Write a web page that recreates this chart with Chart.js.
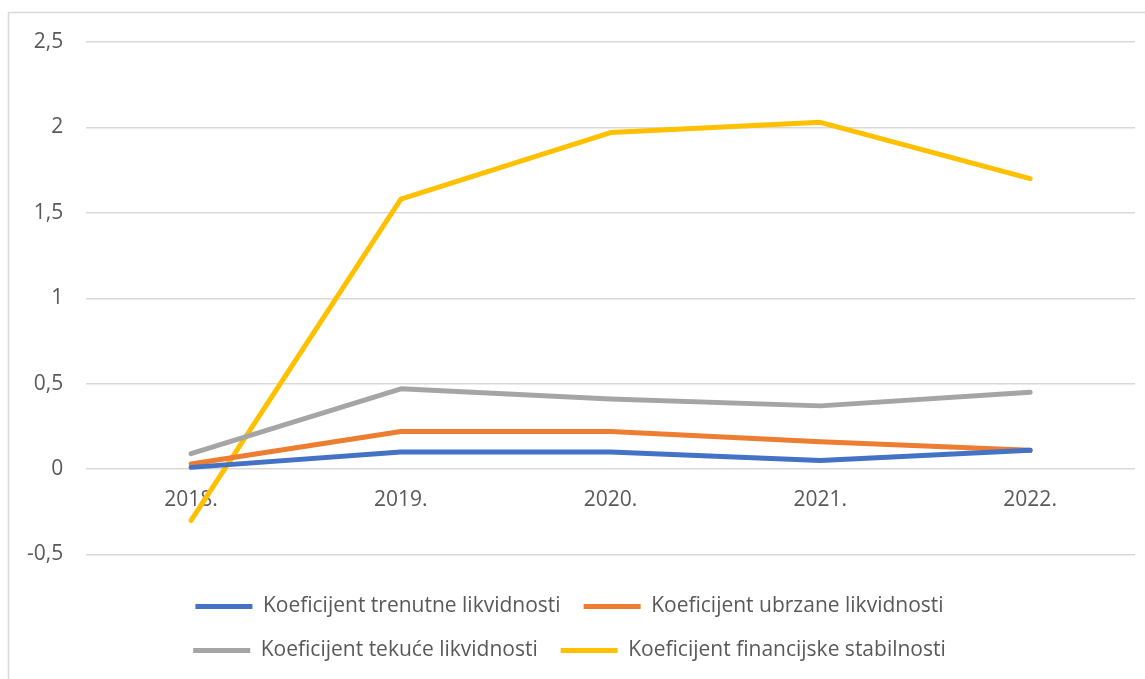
<!DOCTYPE html>
<html lang="hr">
<head>
    <meta charset="UTF-8">
    <title>Koeficijenti likvidnosti i financijske stabilnosti</title>
    <script src="https://cdn.jsdelivr.net/npm/chart.js"></script>
    <style>
        html, body {
            margin: 0;
            padding: 0;
            background: #ffffff;
            overflow: hidden;
        }
        .chart-container {
            width: 1145px;
            height: 679px;
        }
    </style>
</head>
<body>
    <div class="chart-container">
        <canvas id="lineChart"></canvas>
    </div>

    <script>
        // Data
        const years = ['2018.', '2019.', '2020.', '2021.', '2022.'];
        const trenutne = [0.01, 0.10, 0.10, 0.05, 0.11];
        const ubrzane = [0.03, 0.22, 0.22, 0.16, 0.11];
        const tekuce = [0.09, 0.47, 0.41, 0.37, 0.45];
        const stabilnost = [-0.30, 1.58, 1.97, 2.03, 1.70];

        const FONT = '"Open Sans", sans-serif';
        const TEXT = '#595959';
        const GRID = '#d9d9d9';

        function series(label, data, color) {
            return {
                label: label,
                data: data,
                borderColor: color,
                backgroundColor: color,
                borderWidth: 5,
                borderCapStyle: 'round',
                borderJoinStyle: 'round',
                pointRadius: 0,
                pointHoverRadius: 0,
                tension: 0
            };
        }

        // light frame of the chart area, like the office chart
        const frame = {
            id: 'frame',
            beforeDraw(chart) {
                const c = chart.ctx;
                c.save();
                c.strokeStyle = GRID;
                c.lineWidth = 1.5;
                c.beginPath();
                c.moveTo(8.5, chart.height + 5);
                c.lineTo(8.5, 12.5);
                c.lineTo(chart.width + 5, 12.5);
                c.stroke();
                c.restore();
            }
        };

        const ctx = document.getElementById('lineChart').getContext('2d');
        new Chart(ctx, {
            type: 'line',
            data: {
                labels: years,
                datasets: [
                    series('Koeficijent trenutne likvidnosti', trenutne, '#4472C4'),
                    series('Koeficijent ubrzane likvidnosti', ubrzane, '#ED7D31'),
                    series('Koeficijent tekuće likvidnosti', tekuce, '#A5A5A5'),
                    series('Koeficijent financijske stabilnosti', stabilnost, '#FFC000')
                ]
            },
            plugins: [frame],
            options: {
                responsive: true,
                maintainAspectRatio: false,
                animation: false,
                layout: {
                    padding: { top: 42, left: 4, right: 10, bottom: 8 }
                },
                plugins: {
                    tooltip: { enabled: false },
                    legend: {
                        position: 'bottom',
                        title: {
                            display: true,
                            text: '',
                            font: { size: 10, lineHeight: 1 },
                            padding: { top: 8.5, bottom: 0 }
                        },
                        labels: {
                            usePointStyle: true,
                            pointStyle: 'line',
                            pointStyleWidth: 57,
                            padding: 23,
                            color: TEXT,
                            font: { family: FONT, size: 21 }
                        }
                    }
                },
                scales: {
                    y: {
                        min: -0.5,
                        max: 2.5,
                        ticks: {
                            stepSize: 0.5,
                            padding: 23,
                            color: TEXT,
                            font: { family: FONT, size: 21 },
                            callback: (v) => String(v).replace('.', ',')
                        },
                        grid: {
                            color: GRID,
                            lineWidth: 1.5,
                            drawTicks: false
                        },
                        border: { display: false }
                    },
                    x: {
                        position: { y: 0 },
                        offset: true,
                        ticks: {
                            padding: 18,
                            color: TEXT,
                            maxRotation: 0,
                            font: { family: FONT, size: 21 }
                        },
                        grid: {
                            display: false,
                            drawTicks: false
                        },
                        border: { display: false }
                    }
                }
            }
        });
    </script>
</body>
</html>
